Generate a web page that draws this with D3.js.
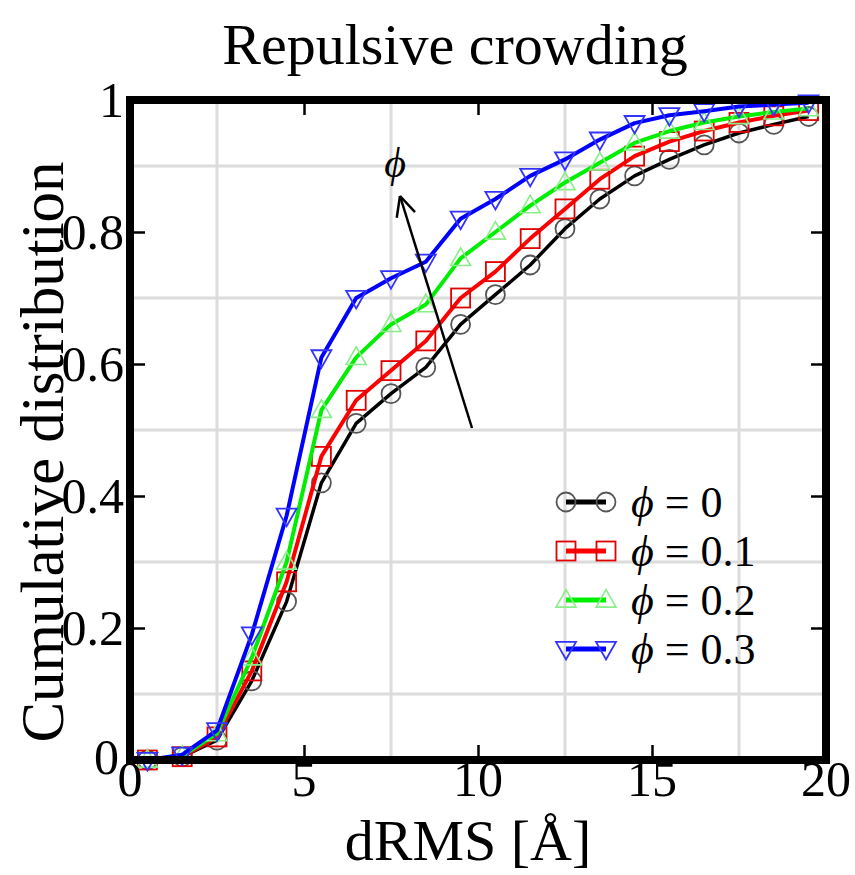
<!DOCTYPE html>
<html><head><meta charset="utf-8">
<script src="https://cdn.jsdelivr.net/npm/d3@7/dist/d3.min.js"></script>
<style>body{margin:0;background:#fff}svg{display:block}</style>
</head><body>
<svg id="chart" width="855" height="875"></svg>
<script>
// ---- data ----
const dRMS = [0.5,1.5,2.5,3.5,4.5,5.5,6.5,7.5,8.5,9.5,10.5,11.5,12.5,13.5,14.5,15.5,16.5,17.5,18.5,19.5];
const phi0  = [0,0.005,0.03,0.12,0.24,0.42,0.51,0.555,0.595,0.66,0.705,0.75,0.805,0.85,0.885,0.91,0.932,0.95,0.963,0.975];
const phi01 = [0,0.005,0.035,0.135,0.27,0.46,0.545,0.59,0.635,0.70,0.74,0.79,0.835,0.88,0.915,0.937,0.953,0.966,0.976,0.984];
const phi02 = [0,0.006,0.04,0.155,0.30,0.53,0.61,0.66,0.69,0.76,0.80,0.84,0.875,0.905,0.935,0.953,0.966,0.975,0.982,0.987];
const phi03 = [0,0.008,0.045,0.19,0.37,0.61,0.70,0.73,0.755,0.82,0.85,0.885,0.91,0.94,0.965,0.977,0.983,0.99,0.993,0.996];
const seriesLabels = ["0","0.1","0.2","0.3"];
const xTicks = [0,5,10,15,20];
const yTicks = [0,0.2,0.4,0.6,0.8,1];
const yTickLabels = ["0","0.2","0.4","0.6","0.8","1"];
const xGrid = [2.5,7.5,12.5,17.5];
const yGrid = [0.1,0.3,0.5,0.7,0.9];
const title = "Repulsive crowding";
const xTitle = "dRMS [Å]";
const yTitle = "Cumulative distribution";
const arrowLabel = "ϕ";

// ---- styles ----
const styles = [
  {line:"#000000", mk:"#555555", shape:"circle", lw:3.5},
  {line:"#ff0000", mk:"#e00000", shape:"square", lw:4},
  {line:"#00ee00", mk:"#88ee88", shape:"triUp", lw:4},
  {line:"#0000ff", mk:"#3333ff", shape:"triDown", lw:4}
];
const seriesVals = [phi0, phi01, phi02, phi03];
const FONT = "'Liberation Serif','Times New Roman',serif";

const svg = d3.select("#chart");
svg.append("rect").attr("width",855).attr("height",875).attr("fill","#fff");

const L=130, R=826, T=100, B=760;
const x = d3.scaleLinear().domain([0,20]).range([L,R]);
const y = d3.scaleLinear().domain([0,1]).range([B,T]);

// grid
const g = svg.append("g");
g.selectAll(".gx").data(xGrid).join("line")
  .attr("x1",d=>x(d)).attr("x2",d=>x(d)).attr("y1",T).attr("y2",B)
  .attr("stroke","#dcdcdc").attr("stroke-width",3);
g.selectAll(".gy").data(yGrid).join("line")
  .attr("y1",d=>y(d)).attr("y2",d=>y(d)).attr("x1",L).attr("x2",R)
  .attr("stroke","#dcdcdc").attr("stroke-width",3);

// axes with inward ticks
const tickLen = 15;
const axB = d3.axisBottom(x).tickValues(xTicks.slice(1,-1)).tickSizeInner(-tickLen).tickSizeOuter(0).tickFormat("");
const axT = d3.axisTop(x).tickValues(xTicks.slice(1,-1)).tickSizeInner(-tickLen).tickSizeOuter(0).tickFormat("");
const axL = d3.axisLeft(y).tickValues(yTicks.slice(1,-1)).tickSizeInner(-tickLen).tickSizeOuter(0).tickFormat("");
const axR = d3.axisRight(y).tickValues(yTicks.slice(1,-1)).tickSizeInner(-tickLen).tickSizeOuter(0).tickFormat("");
[[axB,`translate(0,${B})`],[axT,`translate(0,${T})`],[axL,`translate(${L},0)`],[axR,`translate(${R},0)`]].forEach(([a,t])=>{
  const s = svg.append("g").attr("transform",t).call(a);
  s.select(".domain").remove();
  s.selectAll(".tick line").attr("stroke","#000").attr("stroke-width",2.5);
});

// series
const line = d3.line().x((d,i)=>x(dRMS[i])).y(d=>y(d));
function marker(sel, shape, color, size){
  const r = size/2;
  if(shape==="circle"){
    sel.append("circle").attr("r",r).attr("fill","none").attr("stroke",color).attr("stroke-width",1.8);
  } else if(shape==="square"){
    sel.append("rect").attr("x",-r).attr("y",-r).attr("width",size).attr("height",size)
      .attr("fill","none").attr("stroke",color).attr("stroke-width",1.8);
  } else if(shape==="triUp"){
    sel.append("path").attr("d",`M0,${-r*1.1}L${r*1.05},${r*0.75}L${-r*1.05},${r*0.75}Z`)
      .attr("fill","none").attr("stroke",color).attr("stroke-width",1.6);
  } else {
    sel.append("path").attr("d",`M0,${r*1.1}L${r*1.05},${-r*0.75}L${-r*1.05},${-r*0.75}Z`)
      .attr("fill","none").attr("stroke",color).attr("stroke-width",1.8);
  }
}
const plot = svg.append("g");
seriesVals.forEach((vals,k)=>{
  const st = styles[k];
  plot.append("path").datum(vals).attr("d",line).attr("fill","none")
    .attr("stroke",st.line).attr("stroke-width",st.lw).attr("stroke-linejoin","round");
  vals.forEach((v,i)=>{
    const m = plot.append("g").attr("transform",`translate(${x(dRMS[i])},${y(v)})`);
    marker(m, st.shape, st.mk, 19);
  });
});

// frame
svg.append("rect").attr("x",L).attr("y",T).attr("width",R-L).attr("height",B-T)
  .attr("fill","none").attr("stroke","#000").attr("stroke-width",8);

// tick labels
svg.selectAll(".xl").data(xTicks).join("text")
  .attr("x",d=>x(d)).attr("y",796).attr("text-anchor","middle")
  .attr("font-family",FONT).attr("font-size",50).text(d=>d);
svg.selectAll(".yl").data(yTicks).join("text")
  .attr("x",(d,i)=>i===0?119:124).attr("y",(d,i)=>y(d)+(i===0?14:17)).attr("text-anchor","end")
  .attr("font-family",FONT).attr("font-size",50).text((d,i)=>yTickLabels[i]);

// titles
svg.append("text").attr("x",455).attr("y",64).attr("text-anchor","middle")
  .attr("font-family",FONT).attr("font-size",58).text(title);
svg.append("text").attr("x",468).attr("y",860).attr("text-anchor","middle")
  .attr("font-family",FONT).attr("font-size",58).text(xTitle);
svg.append("text").attr("transform","translate(63,452) rotate(-90)").attr("text-anchor","middle")
  .attr("font-family",FONT).attr("font-size",61).text(yTitle);

// arrow
const ax0=[472,428], ax1=[400,196];
svg.append("line").attr("x1",ax0[0]).attr("y1",ax0[1]).attr("x2",ax1[0]).attr("y2",ax1[1])
  .attr("stroke","#000").attr("stroke-width",2.5);
const ang = Math.atan2(ax0[1]-ax1[1], ax0[0]-ax1[0]);
[0.45,-0.45].forEach(da=>{
  svg.append("line").attr("x1",ax1[0]).attr("y1",ax1[1])
    .attr("x2",ax1[0]+22*Math.cos(ang+da)).attr("y2",ax1[1]+22*Math.sin(ang+da))
    .attr("stroke","#000").attr("stroke-width",2.5);
});
svg.append("text").attr("x",395).attr("y",177).attr("text-anchor","middle")
  .attr("font-family",FONT).attr("font-style","italic").attr("font-size",42).text(arrowLabel);

// legend
const legY = [502,551,600,649];
seriesLabels.forEach((lab,k)=>{
  const st = styles[k], yy = legY[k];
  svg.append("line").attr("x1",566).attr("x2",606).attr("y1",yy).attr("y2",yy)
    .attr("stroke",st.line).attr("stroke-width",5);
  [566,606].forEach(xx=>{
    const m = svg.append("g").attr("transform",`translate(${xx},${yy})`);
    marker(m, st.shape, st.mk, 19);
  });
  const t = svg.append("text").attr("x",631).attr("y",yy+15)
    .attr("font-family",FONT).attr("font-size",44);
  t.append("tspan").attr("font-style","italic").text("ϕ");
  t.append("tspan").text(" = " + lab);
});
</script>
</body></html>
